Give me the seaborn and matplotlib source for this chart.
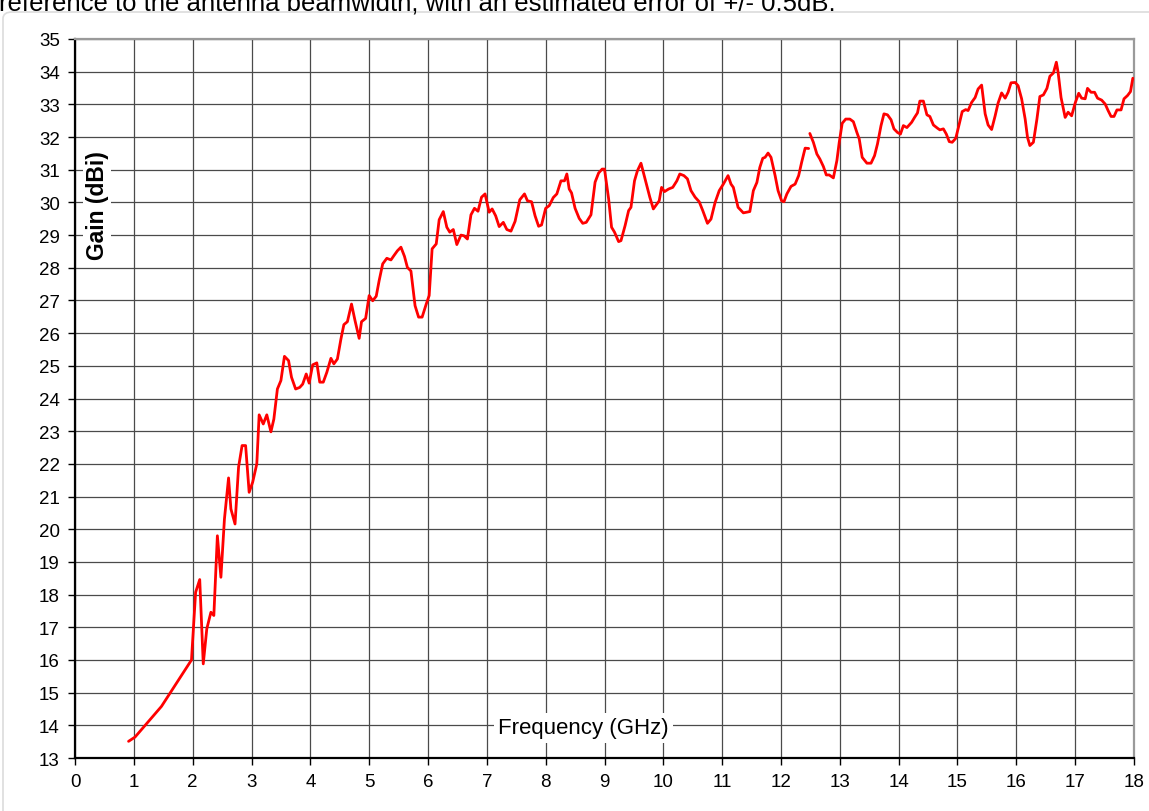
import seaborn as sns
import matplotlib.pyplot as plt
from matplotlib.patches import FancyBboxPatch

# Measured gain curve, first sweep (up to ~12.5 GHz)
freq_a = [0.91, 1.02, 1.47, 1.98, 2.05, 2.12, 2.18, 2.24, 2.31, 2.36, 2.42, 2.48, 2.54, 2.61, 2.65,
          2.72, 2.78, 2.84, 2.90, 2.96, 3.02, 3.09, 3.13, 3.20, 3.26, 3.33, 3.38, 3.44, 3.50, 3.56,
          3.63, 3.68, 3.75, 3.82, 3.87, 3.93, 3.98, 4.04, 4.11, 4.16, 4.22, 4.28, 4.35, 4.40, 4.46,
          4.52, 4.57, 4.63, 4.70, 4.76, 4.83, 4.87, 4.94, 5.00, 5.06, 5.12, 5.17, 5.23, 5.30, 5.37,
          5.42, 5.48, 5.54, 5.60, 5.65, 5.71, 5.78, 5.84, 5.90, 5.97, 6.02, 6.07, 6.14, 6.19, 6.26,
          6.32, 6.37, 6.43, 6.49, 6.56, 6.61, 6.67, 6.73, 6.79, 6.85, 6.91, 6.97, 7.04, 7.09, 7.15,
          7.21, 7.28, 7.34, 7.41, 7.48, 7.56, 7.64, 7.69, 7.76, 7.82, 7.88, 7.93, 8.00, 8.06, 8.13,
          8.19, 8.26, 8.32, 8.36, 8.40, 8.44, 8.50, 8.57, 8.63, 8.69, 8.77, 8.84, 8.90, 8.96, 9.00,
          9.07, 9.12, 9.17, 9.24, 9.28, 9.35, 9.41, 9.45, 9.51, 9.56, 9.62, 9.69, 9.77, 9.83, 9.89,
          9.93, 9.97, 10.02, 10.09, 10.16, 10.23, 10.28, 10.35, 10.41, 10.47, 10.54, 10.61, 10.67,
          10.75, 10.81, 10.88, 10.95, 11.02, 11.10, 11.15, 11.19, 11.27, 11.36, 11.42, 11.47, 11.53,
          11.59, 11.64, 11.69, 11.73, 11.78, 11.83, 11.90, 11.95, 12.01, 12.05, 12.10, 12.17, 12.24,
          12.30, 12.35, 12.41, 12.47]
gain_a = [13.51, 13.64, 14.58, 16.00, 18.07, 18.46, 15.88, 16.95, 17.46, 17.36, 19.80, 18.53, 20.31,
          21.57, 20.62, 20.16, 21.90, 22.56, 22.56, 21.13, 21.44, 22.00, 23.50, 23.22, 23.50, 22.98,
          23.37, 24.29, 24.55, 25.29, 25.16, 24.65, 24.29, 24.34, 24.44, 24.75, 24.47, 25.03, 25.09,
          24.50, 24.50, 24.80, 25.23, 25.06, 25.21, 25.82, 26.26, 26.35, 26.89, 26.38, 25.84, 26.35,
          26.45, 27.15, 26.99, 27.13, 27.61, 28.12, 28.29, 28.24, 28.37, 28.52, 28.63, 28.35, 28.01,
          27.90, 26.84, 26.49, 26.49, 26.89, 27.15, 28.58, 28.73, 29.47, 29.72, 29.24, 29.09, 29.17,
          28.71, 29.00, 28.98, 28.88, 29.62, 29.82, 29.73, 30.16, 30.26, 29.70, 29.80, 29.59, 29.26,
          29.39, 29.17, 29.12, 29.42, 30.08, 30.26, 30.05, 30.02, 29.59, 29.27, 29.31, 29.82, 29.90,
          30.15, 30.26, 30.66, 30.66, 30.87, 30.41, 30.29, 29.82, 29.51, 29.36, 29.39, 29.62, 30.62,
          30.90, 31.02, 31.02, 30.11, 29.24, 29.09, 28.80, 28.83, 29.29, 29.75, 29.85, 30.66, 30.97,
          31.20, 30.72, 30.16, 29.80, 29.95, 30.05, 30.46, 30.33, 30.41, 30.46, 30.66, 30.87, 30.82,
          30.72, 30.36, 30.16, 30.02, 29.75, 29.36, 29.49, 30.00, 30.36, 30.56, 30.82, 30.56, 30.46,
          29.85, 29.68, 29.70, 29.72, 30.36, 30.61, 31.07, 31.35, 31.38, 31.51, 31.38, 30.82, 30.36,
          30.05, 30.02, 30.26, 30.49, 30.56, 30.82, 31.22, 31.66, 31.65]

# Second sweep (12.5 - 18 GHz)
freq_b = [12.49, 12.55, 12.61, 12.66, 12.72, 12.77, 12.82, 12.89, 12.95, 12.99, 13.04, 13.10, 13.17,
          13.23, 13.29, 13.33, 13.38, 13.46, 13.53, 13.59, 13.64, 13.70, 13.75, 13.81, 13.87, 13.92,
          13.98, 14.03, 14.08, 14.14, 14.22, 14.27, 14.32, 14.36, 14.42, 14.48, 14.53, 14.59, 14.66,
          14.70, 14.76, 14.81, 14.86, 14.91, 14.97, 15.03, 15.08, 15.14, 15.18, 15.24, 15.30, 15.35,
          15.41, 15.47, 15.52, 15.58, 15.64, 15.69, 15.75, 15.81, 15.86, 15.91, 15.98, 16.03, 16.09,
          16.15, 16.19, 16.23, 16.29, 16.35, 16.40, 16.46, 16.52, 16.57, 16.63, 16.68, 16.71, 16.76,
          16.83, 16.88, 16.94, 17.00, 17.06, 17.11, 17.17, 17.21, 17.27, 17.33, 17.38, 17.45, 17.51,
          17.56, 17.61, 17.66, 17.71, 17.78, 17.83, 17.89, 17.94, 17.98]
gain_b = [32.11, 31.84, 31.48, 31.33, 31.10, 30.84, 30.84, 30.75, 31.28, 31.84, 32.42, 32.55, 32.55,
          32.47, 32.14, 31.94, 31.38, 31.20, 31.20, 31.43, 31.79, 32.35, 32.71, 32.68, 32.53, 32.25,
          32.14, 32.09, 32.35, 32.29, 32.45, 32.60, 32.74, 33.10, 33.10, 32.68, 32.63, 32.37, 32.27,
          32.22, 32.25, 32.09, 31.86, 31.84, 31.96, 32.40, 32.78, 32.84, 32.81, 33.06, 33.21, 33.47,
          33.59, 32.71, 32.37, 32.23, 32.65, 33.04, 33.35, 33.19, 33.37, 33.66, 33.67, 33.57, 33.17,
          32.55, 31.99, 31.74, 31.84, 32.55, 33.24, 33.29, 33.49, 33.86, 33.96, 34.29, 33.98, 33.21,
          32.60, 32.76, 32.65, 33.04, 33.34, 33.19, 33.17, 33.49, 33.37, 33.37, 33.19, 33.13, 33.01,
          32.81, 32.63, 32.63, 32.83, 32.83, 33.17, 33.27, 33.39, 33.80]

x_ticks = list(range(0, 19))
y_ticks = list(range(13, 36))

sns.set_style("white")
plt.rcParams['font.family'] = ['Liberation Sans', 'DejaVu Sans']
plt.rcParams['text.color'] = 'black'
plt.rcParams['xtick.color'] = 'black'
plt.rcParams['ytick.color'] = 'black'

fig = plt.figure(figsize=(11.49, 8.12), dpi=100)
ax = fig.add_axes([75 / 1149, 1 - 759 / 812, 1059 / 1149, 719 / 812])

# light chart-area border, partly off the page
fig.patches.append(FancyBboxPatch((3 / 1149, -0.05), 1.1, 1 - 13 / 812 + 0.05,
                                  boxstyle="round,pad=0,rounding_size=0.008",
                                  transform=fig.transFigure, fill=False,
                                  edgecolor='#dcdcdc', linewidth=1.2, zorder=0))

# caption text cut off at the top of the image (as in the source screenshot)
fig.text(-0.001, 1 - 10 / 812, "reference to the antenna beamwidth, with an estimated error of +/- 0.5dB.",
         fontsize=18.5, va='baseline', ha='left')

sns.lineplot(x=freq_a, y=gain_a, ax=ax, color='red', linewidth=2.0, sort=False, estimator=None, zorder=3)
sns.lineplot(x=freq_b, y=gain_b, ax=ax, color='red', linewidth=2.0, sort=False, estimator=None, zorder=3)

ax.set_xlim(0, 18)
ax.set_ylim(13, 35)
ax.set_xticks(x_ticks)
ax.set_yticks(y_ticks)
ax.grid(True, color='#4a4a4a', linewidth=0.9)
ax.set_axisbelow(True)
ax.tick_params(axis='both', direction='out', length=5, width=1, color='black',
               labelcolor='black', labelsize=13.5, pad=6, left=True, bottom=True)

for side in ['left', 'bottom']:
    ax.spines[side].set_color('black')
    ax.spines[side].set_linewidth(1.6)
for side in ['top', 'right']:
    ax.spines[side].set_color('#9a9a9a')
    ax.spines[side].set_linewidth(1.6)

ax.set_xlabel('')
ax.set_ylabel('')
ax.text(0.021, 0.77, 'Gain (dBi)', transform=ax.transAxes, rotation=90, fontsize=16.5,
        fontweight='bold', ha='center', va='center', zorder=4,
        bbox=dict(facecolor='white', edgecolor='none', pad=2))
ax.text(0.48, 0.042, 'Frequency (GHz)', transform=ax.transAxes, fontsize=16,
        ha='center', va='center', zorder=4,
        bbox=dict(facecolor='white', edgecolor='none', pad=3))

plt.savefig('out.png', dpi=100)
